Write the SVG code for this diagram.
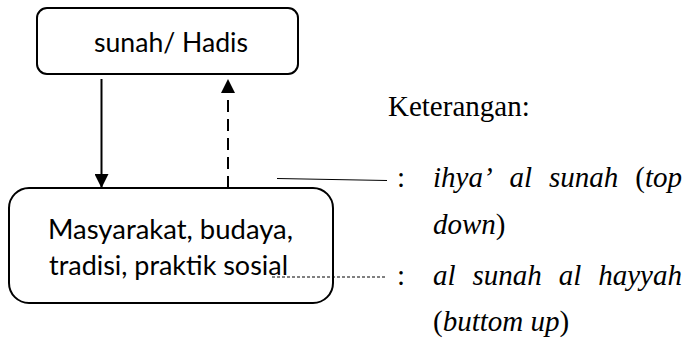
<svg xmlns="http://www.w3.org/2000/svg" width="683" height="345" viewBox="0 0 683 345">
<style>
.box{fill:#fff;stroke:#000;stroke-width:2}
.sans{font-family:Lato,"Liberation Sans",sans-serif;font-size:27px;fill:#000}
.serif{font-family:"Liberation Serif","Times New Roman",serif;font-size:29px;fill:#000}
.it{font-style:italic}
.conn{stroke:#000;stroke-width:2;fill:none}
</style>
<defs>
<marker id="ah" viewBox="0 0 14 14" refX="14" refY="7" markerWidth="14" markerHeight="14" markerUnits="userSpaceOnUse" orient="auto">
<path d="M0,0 L14,7 L0,14 Z" fill="#000"/>
</marker>
</defs>
<rect width="683" height="345" fill="#fff"/>
<g id="node-sunah">
<rect class="box" x="37" y="8" width="261" height="66" rx="10"/>
<text class="sans" x="94" y="52" textLength="154" lengthAdjust="spacingAndGlyphs">sunah/ Hadis</text>
</g>
<g id="node-masyarakat">
<rect class="box" x="9" y="188" width="324" height="115" rx="20"/>
<text class="sans" x="48" y="239" textLength="245" lengthAdjust="spacingAndGlyphs">Masyarakat, budaya,</text>
<text class="sans" x="49" y="275" textLength="239" lengthAdjust="spacingAndGlyphs">tradisi, praktik sosial</text>
</g>
<g id="connectors">
<line class="conn" x1="101.5" y1="79" x2="101.5" y2="188" marker-end="url(#ah)"/>
<line class="conn" x1="228" y1="188" x2="228" y2="79" stroke-dasharray="12,7" marker-end="url(#ah)"/>
</g>
<g id="legend">
<text class="serif" x="388" y="116">Keterangan:</text>
<line x1="277" y1="178.5" x2="387" y2="180.5" stroke="#000" stroke-width="1"/>
<text class="serif" x="397" y="187">:</text>
<text class="serif it" y="187"><tspan x="433">ihya’</tspan><tspan x="509.5">al</tspan><tspan x="549">sunah</tspan></text>
<text class="serif" x="682" y="187" text-anchor="end">(<tspan class="it">top</tspan></text>
<text class="serif" x="433" y="234"><tspan class="it">down</tspan>)</text>
<line x1="272" y1="277" x2="387" y2="277" stroke="#000" stroke-width="1" stroke-dasharray="3,2"/>
<text class="serif" x="397" y="285">:</text>
<text class="serif it" y="285"><tspan x="433">al</tspan><tspan x="472.5">sunah</tspan><tspan x="558.7">al</tspan></text>
<text class="serif it" x="682" y="285" text-anchor="end">hayyah</text>
<text class="serif" x="433" y="331">(<tspan class="it">buttom up</tspan>)</text>
</g>
</svg>
